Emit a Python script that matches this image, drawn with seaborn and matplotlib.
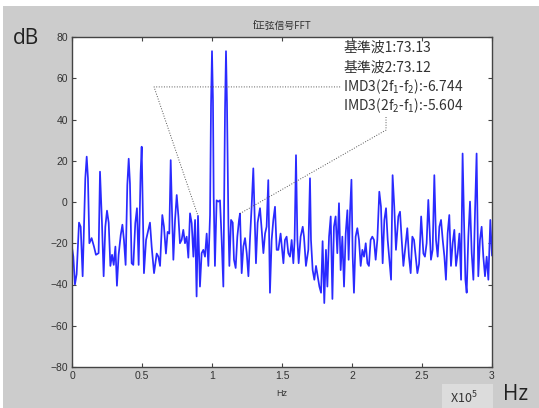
import matplotlib
matplotlib.use('Agg')
import matplotlib.pyplot as plt
from matplotlib.patches import Rectangle
import pandas as pd
import seaborn as sns

# spectrum, frequency in units of 1e5 Hz, level in dB
freq = [
    0.0, 0.0095, 0.021, 0.033, 0.05, 0.062, 0.076, 0.095, 0.105, 0.114,
    0.124, 0.14, 0.157, 0.171, 0.19, 0.2, 0.214, 0.226, 0.238, 0.25,
    0.262, 0.274, 0.286, 0.298, 0.31, 0.321, 0.333, 0.348, 0.36, 0.371,
    0.383, 0.395, 0.405, 0.414, 0.426, 0.438, 0.452, 0.464, 0.476, 0.49,
    0.4976, 0.514, 0.529, 0.557, 0.569, 0.586, 0.605, 0.617, 0.629, 0.645,
    0.657, 0.671, 0.683, 0.695, 0.705, 0.714, 0.724, 0.736, 0.748, 0.76,
    0.771, 0.783, 0.795, 0.807, 0.819, 0.831, 0.843, 0.855, 0.867, 0.879,
    0.89, 0.9, 0.914, 0.926, 0.938, 0.95, 0.962, 0.974, 0.986,
    0.993, 1.0, 1.007, 1.012, 1.021, 1.033, 1.045, 1.057, 1.069, 1.081,
    1.093, 1.1, 1.107, 1.117, 1.124, 1.136, 1.148, 1.157, 1.169, 1.181,
    1.193, 1.2, 1.212, 1.224, 1.236, 1.248, 1.26, 1.271, 1.283, 1.295,
    1.305, 1.314, 1.326, 1.343, 1.355, 1.367, 1.379, 1.39, 1.402, 1.414,
    1.426, 1.438, 1.45, 1.462, 1.474, 1.49,
    1.51, 1.521, 1.533, 1.545, 1.557, 1.569, 1.581, 1.59, 1.6, 1.61,
    1.619, 1.633, 1.648, 1.657, 1.671, 1.688, 1.7, 1.707, 1.719, 1.731,
    1.743, 1.755, 1.767, 1.779, 1.79, 1.802, 1.814, 1.824, 1.836, 1.848,
    1.86, 1.871, 1.883, 1.895, 1.907, 1.919, 1.931, 1.943, 1.955, 1.967,
    1.976, 1.986,
    1.996, 2.005, 2.014, 2.026, 2.038, 2.05, 2.062, 2.074, 2.086, 2.098,
    2.11, 2.121, 2.133, 2.145, 2.157, 2.169, 2.181, 2.195, 2.207, 2.219,
    2.231, 2.243, 2.255, 2.267, 2.279, 2.29, 2.302, 2.314, 2.331, 2.343,
    2.355, 2.367, 2.379, 2.395, 2.407, 2.419, 2.431, 2.443, 2.455, 2.467,
    2.479, 2.494, 2.51, 2.521, 2.533, 2.545, 2.552, 2.564, 2.576, 2.588,
    2.6, 2.612, 2.624, 2.636, 2.648, 2.66, 2.671, 2.683, 2.695, 2.707,
    2.719, 2.731, 2.743, 2.755, 2.767, 2.779, 2.79, 2.8, 2.81, 2.819,
    2.831, 2.843, 2.855, 2.867, 2.879, 2.89, 2.902, 2.914, 2.926, 2.938,
    2.95, 2.962, 2.974, 2.988, 3.0,
]
level_db = [
    -22, -26.5, -40, -35, -10, -12, -36, 11.5, 22, 11.5,
    -20, -17.5, -21.6, -25.6, -24.8, 14.7, -10, -36, -12, -4.2,
    -10, -31, -25.6, -30.5, -21.6, -40.6, -25.6, -16, -11, -18.4,
    -30.5, 8.2, 21, 9, -29.7, -30.5, -10.3, -3, -30.5, 13.9,
    26.8, -34.5, -18.4, -10, -21.6, -34.5, -25, -26.5, -31, -6.3,
    -12, -25, -14.5, -15.3, 20.3, -3.9, -28, -8.7, 3.4, -7,
    -20, -18.4, -13.5, -20, -16.8, -27, -5.5, -10.3, -26.5, -8.7,
    -45.8, -6.744, -41, -24.8, -23.2, -26.5, -15.3, -31, -6.3,
    47, 73.13, 49, 2.6, -31, 0.8, 0.2, 0.8, -18.4, -41,
    45, 73.12, 48, -10, -31, -8.7, -10, -28, -32, -16.8,
    -8.7, -5.604, -34.5, -21.6, -17.5, -24.8, -36, -18.4, -2.3, 16.3,
    -7.3, -29.7, -10, -3, -13.5, -24.8, -15.3, -12, 10.6, -44,
    -18.4, -8.7, -2.3, -23.2, -23.2, -15.3,
    -29.7, -18.4, -16.8, -24.8, -26.5, -18.4, -29.7, -18.4, 22.7, -18.4,
    -29.7, -16.8, -12, -16.8, -31, -23.2, 11.5, -18.4, -33, -37.7,
    -31, -36, -41, -44, -19, -49, -23.2, -41, -16.8, -7,
    -47, -12, -7, -24.8, -0.6, -33, -16.8, -41, -15.3, -4,
    -28, -4.7,
    10.8, -26.5, -44, -16.8, -12.7, -18.4, -31, -23.2, -26.5, -20,
    -29.7, -31, -18.4, -16.8, -18.4, -28, -18.4, 5, -2.3, -29.7,
    -8.7, -3, -18.4, -28, -37.7, 13, -2.3, -23.2, -7, -4.7,
    -18.4, -31, -23.2, -12.7, -26.5, -34.5, -16.8, -18.4, -26.5, -34.5,
    -30, -7, -25, -26.5, -20, 1, -10, -28, -23.2, 13,
    -18.4, -26.5, -12, -8.7, -18.4, -26.5, -37.7, -15.3, -6.3, -31,
    -20, -13.5, -31, -24.8, -15.3, -37.7, 23.5, -8.7, -37.7, -44,
    -16.8, 0.2, -24.8, -37.7, -4, 23.5, -36, -18.4, -12, -26.5,
    -36, -26.5, -37.7, -8.7, -26,
]

x_ticks = [0, 0.5, 1, 1.5, 2, 2.5, 3]
x_tick_labels = ['0', '0.5', '1', '1.5', '2', '2.5', '3']
y_ticks = [-80, -60, -40, -20, 0, 20, 40, 60, 80]

notes = ['基準波1:73.13', '基準波2:73.12',
         'IMD3(2f$_1$-f$_2$):-6.744', 'IMD3(2f$_2$-f$_1$):-5.604']
note_y = [74.7, 65.0, 55.8, 46.5]

df = pd.DataFrame({'freq': freq, 'db': level_db})

sns.set_style('ticks')
plt.rcParams['font.family'] = ['Noto Sans CJK JP', 'DejaVu Sans']
plt.rcParams['mathtext.fontset'] = 'custom'
plt.rcParams['mathtext.rm'] = 'Noto Sans CJK JP'
plt.rcParams['mathtext.it'] = 'Noto Sans CJK JP'

fig = plt.figure(figsize=(5.39, 4.08), dpi=100, facecolor='white')
fig.patches.append(Rectangle((3 / 539, 0), 1, 402 / 408, transform=fig.transFigure,
                             facecolor='#cccccc', edgecolor='none', zorder=-10))
fig.patches.append(Rectangle((442 / 539, 0), 51 / 539, 24 / 408, transform=fig.transFigure,
                             facecolor='#dcdcdc', edgecolor='none', zorder=-9))

ax = fig.add_axes([72 / 539, 41 / 408, 420 / 539, 330 / 408])
ax.set_facecolor('white')

sns.lineplot(data=df, x='freq', y='db', ax=ax, color='#2a2aff', linewidth=1.25,
             sort=False, estimator=None, legend=False)

ax.set_xlim(0, 3)
ax.set_ylim(-80, 80)
ax.set_xticks(x_ticks)
ax.set_xticklabels(x_tick_labels)
ax.set_yticks(y_ticks)
for lab in ax.get_xticklabels() + ax.get_yticklabels():
    lab.set_family('Liberation Sans')
ax.tick_params(direction='in', top=True, right=True, length=3, width=0.8,
               labelsize=7.5, labelcolor='#333333', color='#444444', pad=3)
for sp in ax.spines.values():
    sp.set_color('#444444')
    sp.set_linewidth(1.0)

ax.set_xlabel('Hz', fontsize=6.5, family='Liberation Sans', color='#333333', labelpad=6)
ax.set_ylabel('')
ax.set_title('f正弦信号FFT', fontsize=7, color='#333333', pad=6)

# annotation texts and dotted leader lines
for txt, yy in zip(notes, note_y):
    ax.text(1.936, yy, txt, fontsize=10, color='#333333', va='center', ha='left')
ax.plot([1.915, 0.586, 0.9], [55.8, 55.8, -6.744], color='#555555', lw=0.7, ls=':')
ax.plot([2.243, 2.243, 1.2], [41.2, 34.9, -5.604], color='#555555', lw=0.7, ls=':')

fig.text(13 / 539, 1 - 38 / 408, 'dB', fontsize=15, color='#222222', va='center', ha='left',
         family='Open Sans')
fig.text(503 / 539, 1 - 395 / 408, 'Hz', fontsize=15, color='#222222', va='center', ha='left',
         family='Open Sans')
fig.text(450 / 539, 1 - 398 / 408, 'X10$^5$', fontsize=9, color='#333333', va='center', ha='left')

fig.savefig('out.png', dpi=100)
